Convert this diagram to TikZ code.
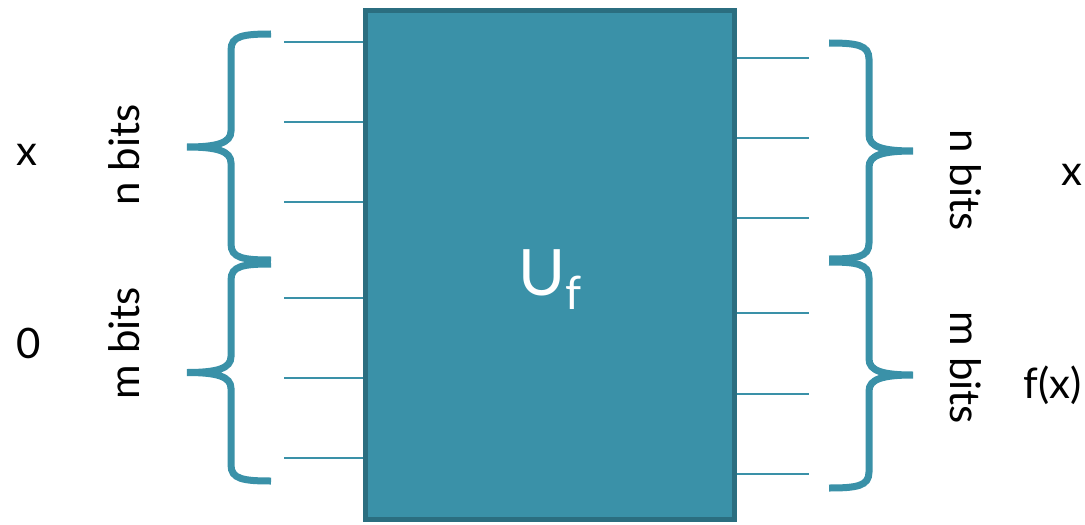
\documentclass[tikz,border=0pt]{standalone}
\usepackage{fontspec}
\setmainfont{Lato}
\usetikzlibrary{calc}
\definecolor{ufFill}{HTML}{3A91A8}
\definecolor{ufBorder}{HTML}{2B6E80}
\tikzset{
  ufbox/.style={
    rectangle, draw=ufBorder, fill=ufFill, line width=2.5pt,
    minimum width=184.5pt, minimum height=254pt, inner sep=0pt,
  },
  wire/.style={draw=ufFill, line width=1pt},
  % brace between two points, #1 = side of the tip (-1 left, 1 right)
  bigbrace/.style={draw=ufFill, line width=3.5pt,
    to path={let \p1=(\tikztostart), \p2=(\tikztotarget),
      \n1={(\y1+\y2)/2}, \n2={#1*20pt}, \n3={#1*42pt},
      \n4={#1*14pt}, \n5={#1*27pt} in
      (\p1) .. controls (\x1+\n4,\y1) and (\x1+\n2,\y1-1pt) .. (\x1+\n2,\y1-8pt)
      -- (\x1+\n2,\n1+8pt) .. controls (\x1+\n2,\n1+2pt) and (\x1+\n5,\n1) .. (\x1+\n3,\n1)
      .. controls (\x1+\n5,\n1) and (\x1+\n2,\n1-2pt) .. (\x1+\n2,\n1-8pt)
      -- (\x1+\n2,\y2+8pt) .. controls (\x1+\n2,\y2+1pt) and (\x1+\n4,\y2) .. (\p2)}},
  lbl/.style={font=\fontsize{21}{25}\selectfont, inner sep=0pt},
}

\begin{document}
\begin{tikzpicture}[x=0.5pt, y=-0.5pt]
  \useasboundingbox (0,0) rectangle (1085,524);

  % Box
  \node[ufbox] (uf) at (550,265) {};
  \node[text=white, inner sep=0pt] (uflbl) at (550,280)
    {\fontsize{32}{34}\selectfont U\raisebox{-7pt}{\fontsize{23}{25}\selectfont f}};

  % Wires
  \foreach \i/\y in {1/42,2/122,3/202,4/298,5/378,6/458} {
    \coordinate (lw\i) at (284,\y);
    \draw[wire] (lw\i) -- (uf.west |- lw\i);
  }
  \foreach \i/\y in {1/58,2/138,3/218,4/313,5/394,6/474} {
    \coordinate (rw\i) at (809,\y);
    \draw[wire] (uf.east |- rw\i) -- (rw\i);
  }

  % Braces
  \coordinate (lbA) at (271,34);
  \coordinate (lbB) at (271,260);
  \coordinate (lbC) at (271,264);
  \coordinate (lbD) at (271,481);
  \draw[bigbrace=-1] (lbA) to (lbB);
  \draw[bigbrace=-1] (lbC) to (lbD);
  \coordinate (rbA) at (829,43);
  \coordinate (rbB) at (829,259);
  \coordinate (rbC) at (829,262);
  \coordinate (rbD) at (829,488);
  \draw[bigbrace=1] (rbA) to (rbB);
  \draw[bigbrace=1] (rbC) to (rbD);

  % Labels
  \node[lbl] (inx) at (27,155) {x};
  \node[lbl] (inz) at (29,343) {0};
  \node[lbl, rotate=90] (nbitsL) at (124,155) {n bits};
  \node[lbl, rotate=90] (mbitsL) at (124,343) {m bits};
  \node[lbl, rotate=-90] (nbitsR) at (966,180) {n bits};
  \node[lbl, rotate=-90] (mbitsR) at (966,368) {m bits};
  \node[lbl] (outx) at (1072,175) {x};
  \node[lbl] (outf) at (1053,385) {f(x)};
\end{tikzpicture}
\end{document}
